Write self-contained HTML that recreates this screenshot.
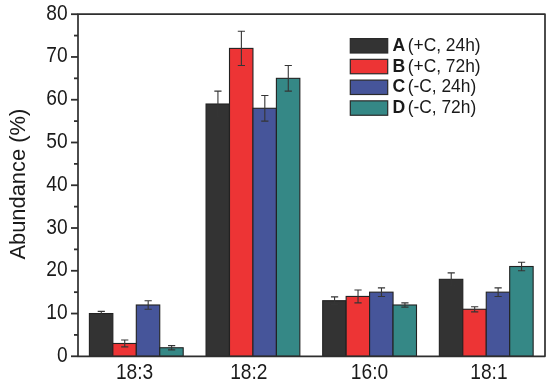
<!DOCTYPE html>
<html><head><meta charset="utf-8"><style>
html,body{margin:0;padding:0;background:#fff;}
svg{display:block;will-change:transform;font-family:"Liberation Sans",sans-serif;}
text{fill:#1a1a1a;}
</style></head><body>
<svg width="550" height="382" viewBox="0 0 550 382">
<rect x="89.40" y="313.54" width="23.45" height="42.76" fill="#333333" stroke="#222" stroke-width="1.1"/>
<rect x="112.85" y="343.47" width="23.45" height="12.83" fill="#ed3435" stroke="#222" stroke-width="1.1"/>
<rect x="136.30" y="304.99" width="23.45" height="51.31" fill="#46559a" stroke="#222" stroke-width="1.1"/>
<rect x="159.75" y="347.75" width="23.45" height="8.55" fill="#358886" stroke="#222" stroke-width="1.1"/>
<rect x="206.05" y="104.00" width="23.45" height="252.30" fill="#333333" stroke="#222" stroke-width="1.1"/>
<rect x="229.50" y="48.41" width="23.45" height="307.89" fill="#ed3435" stroke="#222" stroke-width="1.1"/>
<rect x="252.95" y="108.28" width="23.45" height="248.02" fill="#46559a" stroke="#222" stroke-width="1.1"/>
<rect x="276.40" y="78.34" width="23.45" height="277.96" fill="#358886" stroke="#222" stroke-width="1.1"/>
<rect x="322.70" y="300.71" width="23.45" height="55.59" fill="#333333" stroke="#222" stroke-width="1.1"/>
<rect x="346.15" y="296.43" width="23.45" height="59.87" fill="#ed3435" stroke="#222" stroke-width="1.1"/>
<rect x="369.60" y="292.16" width="23.45" height="64.14" fill="#46559a" stroke="#222" stroke-width="1.1"/>
<rect x="393.05" y="304.99" width="23.45" height="51.31" fill="#358886" stroke="#222" stroke-width="1.1"/>
<rect x="439.35" y="279.33" width="23.45" height="76.97" fill="#333333" stroke="#222" stroke-width="1.1"/>
<rect x="462.80" y="309.26" width="23.45" height="47.04" fill="#ed3435" stroke="#222" stroke-width="1.1"/>
<rect x="486.25" y="292.16" width="23.45" height="64.14" fill="#46559a" stroke="#222" stroke-width="1.1"/>
<rect x="509.70" y="266.50" width="23.45" height="89.80" fill="#358886" stroke="#222" stroke-width="1.1"/>
<path d="M101.28 311.40V315.68M97.68 311.40H104.88M97.68 315.68H104.88" stroke="#353535" stroke-width="1.1" fill="none"/>
<path d="M124.73 340.05V346.89M121.13 340.05H128.33M121.13 346.89H128.33" stroke="#353535" stroke-width="1.1" fill="none"/>
<path d="M148.18 300.71V309.26M144.58 300.71H151.78M144.58 309.26H151.78" stroke="#353535" stroke-width="1.1" fill="none"/>
<path d="M171.62 345.61V349.89M168.03 345.61H175.22M168.03 349.89H175.22" stroke="#353535" stroke-width="1.1" fill="none"/>
<path d="M217.93 91.17V116.83M214.33 91.17H221.53M214.33 116.83H221.53" stroke="#353535" stroke-width="1.1" fill="none"/>
<path d="M241.38 31.31V65.51M237.78 31.31H244.97M237.78 65.51H244.97" stroke="#353535" stroke-width="1.1" fill="none"/>
<path d="M264.82 95.45V121.11M261.22 95.45H268.43M261.22 121.11H268.43" stroke="#353535" stroke-width="1.1" fill="none"/>
<path d="M288.27 65.51V91.17M284.67 65.51H291.88M284.67 91.17H291.88" stroke="#353535" stroke-width="1.1" fill="none"/>
<path d="M334.58 296.86V304.56M330.98 296.86H338.18M330.98 304.56H338.18" stroke="#353535" stroke-width="1.1" fill="none"/>
<path d="M358.03 290.02V302.85M354.43 290.02H361.63M354.43 302.85H361.63" stroke="#353535" stroke-width="1.1" fill="none"/>
<path d="M381.48 287.88V296.43M377.88 287.88H385.08M377.88 296.43H385.08" stroke="#353535" stroke-width="1.1" fill="none"/>
<path d="M404.93 302.85V307.12M401.33 302.85H408.53M401.33 307.12H408.53" stroke="#353535" stroke-width="1.1" fill="none"/>
<path d="M451.23 272.91V285.74M447.62 272.91H454.83M447.62 285.74H454.83" stroke="#353535" stroke-width="1.1" fill="none"/>
<path d="M474.68 306.70V311.83M471.07 306.70H478.28M471.07 311.83H478.28" stroke="#353535" stroke-width="1.1" fill="none"/>
<path d="M498.12 287.88V296.43M494.52 287.88H501.73M494.52 296.43H501.73" stroke="#353535" stroke-width="1.1" fill="none"/>
<path d="M521.58 262.22V270.77M517.98 262.22H525.18M517.98 270.77H525.18" stroke="#353535" stroke-width="1.1" fill="none"/>
<rect x="78.0" y="14.2" width="467.0" height="342.1" fill="none" stroke="#2e2e2e" stroke-width="1.7" stroke-linejoin="round"/>
<line x1="71.0" y1="356.30" x2="78.0" y2="356.30" stroke="#2e2e2e" stroke-width="1.8"/>
<line x1="74.0" y1="334.92" x2="78.0" y2="334.92" stroke="#2e2e2e" stroke-width="1.8"/>
<line x1="71.0" y1="313.54" x2="78.0" y2="313.54" stroke="#2e2e2e" stroke-width="1.8"/>
<line x1="74.0" y1="292.16" x2="78.0" y2="292.16" stroke="#2e2e2e" stroke-width="1.8"/>
<line x1="71.0" y1="270.77" x2="78.0" y2="270.77" stroke="#2e2e2e" stroke-width="1.8"/>
<line x1="74.0" y1="249.39" x2="78.0" y2="249.39" stroke="#2e2e2e" stroke-width="1.8"/>
<line x1="71.0" y1="228.01" x2="78.0" y2="228.01" stroke="#2e2e2e" stroke-width="1.8"/>
<line x1="74.0" y1="206.63" x2="78.0" y2="206.63" stroke="#2e2e2e" stroke-width="1.8"/>
<line x1="71.0" y1="185.25" x2="78.0" y2="185.25" stroke="#2e2e2e" stroke-width="1.8"/>
<line x1="74.0" y1="163.87" x2="78.0" y2="163.87" stroke="#2e2e2e" stroke-width="1.8"/>
<line x1="71.0" y1="142.49" x2="78.0" y2="142.49" stroke="#2e2e2e" stroke-width="1.8"/>
<line x1="74.0" y1="121.11" x2="78.0" y2="121.11" stroke="#2e2e2e" stroke-width="1.8"/>
<line x1="71.0" y1="99.73" x2="78.0" y2="99.73" stroke="#2e2e2e" stroke-width="1.8"/>
<line x1="74.0" y1="78.34" x2="78.0" y2="78.34" stroke="#2e2e2e" stroke-width="1.8"/>
<line x1="71.0" y1="56.96" x2="78.0" y2="56.96" stroke="#2e2e2e" stroke-width="1.8"/>
<line x1="74.0" y1="35.58" x2="78.0" y2="35.58" stroke="#2e2e2e" stroke-width="1.8"/>
<line x1="71.0" y1="14.20" x2="78.0" y2="14.20" stroke="#2e2e2e" stroke-width="1.8"/>
<text transform="translate(67.6,361.80) scale(0.905,1)" text-anchor="end" font-size="21.2">0</text>
<text transform="translate(67.6,319.04) scale(0.905,1)" text-anchor="end" font-size="21.2">10</text>
<text transform="translate(67.6,276.27) scale(0.905,1)" text-anchor="end" font-size="21.2">20</text>
<text transform="translate(67.6,233.51) scale(0.905,1)" text-anchor="end" font-size="21.2">30</text>
<text transform="translate(67.6,190.75) scale(0.905,1)" text-anchor="end" font-size="21.2">40</text>
<text transform="translate(67.6,147.99) scale(0.905,1)" text-anchor="end" font-size="21.2">50</text>
<text transform="translate(67.6,105.23) scale(0.905,1)" text-anchor="end" font-size="21.2">60</text>
<text transform="translate(67.6,62.46) scale(0.905,1)" text-anchor="end" font-size="21.2">70</text>
<text transform="translate(67.6,19.70) scale(0.905,1)" text-anchor="end" font-size="21.2">80</text>
<text transform="translate(134.60,378.9) scale(0.88,1)" text-anchor="middle" font-size="21.8">18:3</text>
<text transform="translate(248.80,378.9) scale(0.88,1)" text-anchor="middle" font-size="21.8">18:2</text>
<text transform="translate(369.50,378.9) scale(0.88,1)" text-anchor="middle" font-size="21.8">16:0</text>
<text transform="translate(488.90,378.9) scale(0.88,1)" text-anchor="middle" font-size="21.8">18:1</text>
<text transform="translate(24.8,259.6) rotate(-90)" font-size="21.9">Abundance (%)</text>
<rect x="350.3" y="38.60" width="37.4" height="14.4" fill="#333333" stroke="#2a2a2a" stroke-width="1.2"/>
<text transform="translate(392.5,50.90) scale(0.97,1)" font-size="18.2" font-weight="bold">A</text>
<text transform="translate(407.7,50.90) scale(0.955,1)" font-size="18.2">(+C, 24h)</text>
<rect x="350.3" y="59.35" width="37.4" height="14.4" fill="#ed3435" stroke="#2a2a2a" stroke-width="1.2"/>
<text transform="translate(392.5,71.65) scale(0.97,1)" font-size="18.2" font-weight="bold">B</text>
<text transform="translate(407.7,71.65) scale(0.955,1)" font-size="18.2">(+C, 72h)</text>
<rect x="350.3" y="80.10" width="37.4" height="14.4" fill="#46559a" stroke="#2a2a2a" stroke-width="1.2"/>
<text transform="translate(392.5,92.40) scale(0.97,1)" font-size="18.2" font-weight="bold">C</text>
<text transform="translate(407.7,92.40) scale(0.955,1)" font-size="18.2">(-C, 24h)</text>
<rect x="350.3" y="100.85" width="37.4" height="14.4" fill="#358886" stroke="#2a2a2a" stroke-width="1.2"/>
<text transform="translate(392.5,113.15) scale(0.97,1)" font-size="18.2" font-weight="bold">D</text>
<text transform="translate(407.7,113.15) scale(0.955,1)" font-size="18.2">(-C, 72h)</text>
</svg>
</body></html>
